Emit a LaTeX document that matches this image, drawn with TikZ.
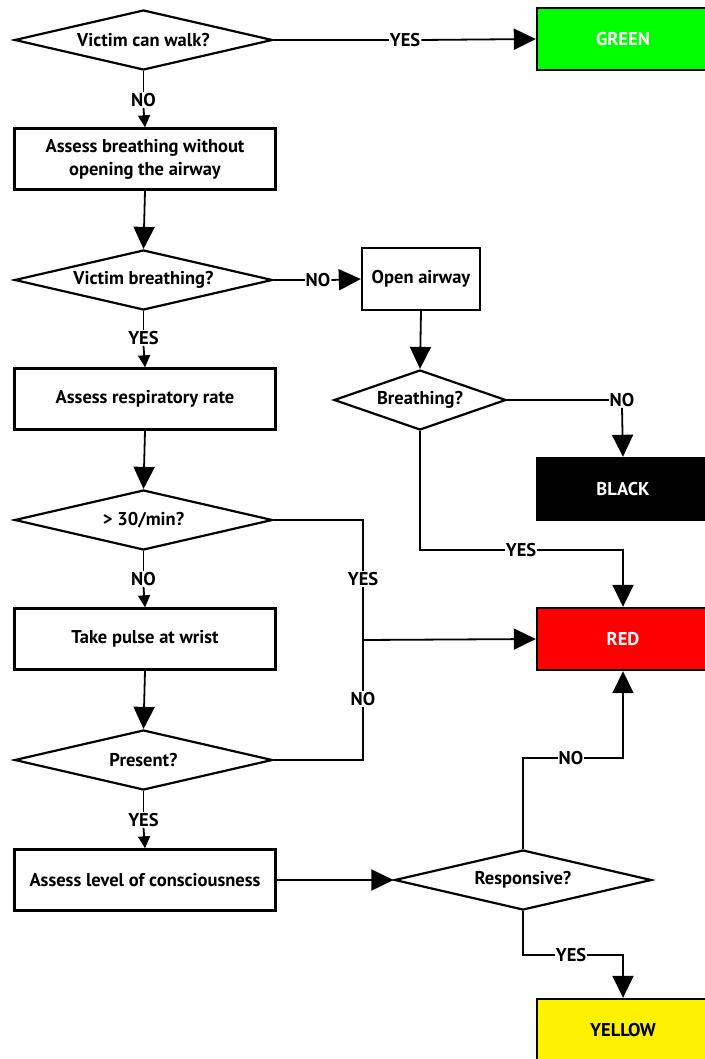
\documentclass[tikz,border=0pt]{standalone}
\usepackage{fontspec}
\setmainfont{PT Sans}
\usetikzlibrary{shapes.geometric,arrows.meta}
\begin{document}
\begin{tikzpicture}[x=1pt,y=-1pt,
  every node/.style={font=\bfseries\fontsize{18.5}{23}\selectfont},
  box/.style={draw, line width=2.4pt, rectangle, inner sep=0pt, align=center, minimum width=261pt, minimum height=61pt},
  cbox/.style={box, minimum width=172pt, minimum height=62pt},
  dia/.style={draw, line width=2.2pt, diamond, inner sep=0pt, aspect=4.3, minimum width=258pt, minimum height=60pt},
  lab/.style={inner sep=1pt},
  ln/.style={line width=1.8pt},
  big/.style={ln, -{Triangle[length=22pt,width=21pt]}},
  small/.style={ln, -{Triangle[length=12pt,width=12pt]}},
]
\useasboundingbox (0,0) rectangle (704,1059);

% nodes
\node[dia] (d1) at (143.5,40) {Victim can walk?};
\node[cbox, fill=green, text=white] (green) at (623,39) {GREEN};
\node[lab] (y1) at (405,40) {YES};
\node[lab] (n1) at (143.5,100) {NO};
\node[box] (b1) at (145,159) {Assess breathing without\\opening the airway};
\node[dia] (d2) at (143.5,280) {Victim breathing?};
\node[lab] (n2) at (318,280) {NO};
\node[box, minimum width=118pt, minimum height=62pt] (oa) at (421,279) {Open airway};
\node[lab] (y2) at (143.5,338) {YES};
\node[box] (b2) at (145,399) {Assess respiratory rate};
\node[dia, minimum width=172pt, aspect=2.9] (d3) at (420,400) {Breathing?};
\node[lab] (n3) at (622,400) {NO};
\node[cbox, fill=black, text=white] (black) at (623,489) {BLACK};
\node[dia] (d4) at (143.5,520) {> 30/min?};
\node[lab] (y3) at (521,550) {YES};
\node[lab] (y4) at (363,579) {YES};
\node[lab] (n4) at (363,699) {NO};
\node[lab] (n5) at (143.5,579) {NO};
\node[box] (b3) at (145,639) {Take pulse at wrist};
\node[cbox, fill=red, text=white] (red) at (623,639) {RED};
\coordinate (j) at (363,640);
\node[dia] (d5) at (143.5,760) {Present?};
\node[lab] (n6) at (571,758) {NO};
\node[lab] (y5) at (143.5,820) {YES};
\node[box] (b4) at (145,880) {Assess level of consciousness};
\node[dia, minimum width=257pt] (d6) at (523,880) {Responsive?};
\node[lab] (y6) at (571,955) {YES};
\node[cbox, fill=yellow] (yellow) at (623,1030) {YELLOW};

% connectors
\draw[ln] (d1.east) -- (y1.west);
\draw[big] (y1.east) -- (green.west);
\draw[ln] (d1.south) -- (n1.north);
\draw[small] (n1.south) -- (b1.north);
\draw[big] (b1.south) -- (d2.north);
\draw[ln] (d2.east) -- (n2.west);
\draw[big] (n2.east) -- (oa.west);
\draw[ln] (d2.south) -- (y2.north);
\draw[small] (y2.south) -- (b2.north);
\draw[big] (oa.south) -- (d3.north);
\draw[ln] (d3.east) -- (n3.west);
\draw[big] (n3.south) -- (black.north);
\draw[big] (b2.south) -- (d4.north);
\draw[ln] (d3.south) |- (y3.west);
\draw[big] (y3.east) -| (red.north);
\draw[ln] (d4.east) -| (y4.north);
\draw[ln] (y4.south) -- (n4.north);
\draw[ln] (d5.east) -| (n4.south);
\draw[big] (j) -- (red.west);
\draw[ln] (d4.south) -- (n5.north);
\draw[small] (n5.south) -- (b3.north);
\draw[big] (b3.south) -- (d5.north);
\draw[ln] (d5.south) -- (y5.north);
\draw[small] (y5.south) -- (b4.north);
\draw[big] (b4.east) -- (d6.west);
\draw[ln] (d6.north) |- (n6.west);
\draw[big] (n6.east) -| (red.south);
\draw[ln] (d6.south) |- (y6.west);
\draw[big] (y6.east) -| (yellow.north);
\end{tikzpicture}
\end{document}
